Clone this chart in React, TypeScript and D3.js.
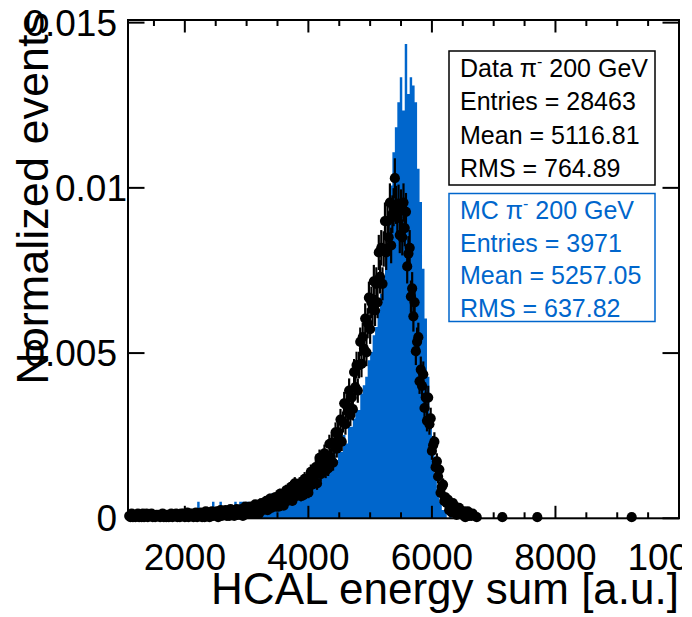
import React from 'react';
import * as d3 from 'd3';

const W = 692;
const H = 617;

const X_DOMAIN = [1080, 10000];
const Y_DOMAIN = [0, 0.01508];
const MC_BIN_WIDTH = 40;
const MC_FIRST_CENTER = 1100;
const DATA_BIN_WIDTH = 20;
const DATA_FIRST_CENTER = 1100;
const MC_ENTRIES = 3971;
const DATA_ENTRIES = 28463;

// MC (blue histogram): entries per bin
const mcCounts = [
  0, 1, 0, 0, 0, 1, 0, 0, 0, 0,
  1, 0, 0, 0, 1, 0, 0, 0, 0, 1,
  1, 1, 0, 1, 0, 1, 0, 1, 2, 0,
  1, 1, 0, 1, 2, 1, 0, 2, 1, 1,
  1, 0, 1, 2, 1, 2, 2, 1, 2, 1,
  2, 1, 1, 2, 1, 2, 1, 2, 3, 3,
  2, 3, 3, 2, 2, 2, 3, 3, 4, 4,
  3, 4, 4, 4, 5, 4, 5, 6, 5, 6,
  6, 7, 7, 8, 7, 9, 8, 10, 9, 11,
  11, 12, 13, 13, 15, 16, 17, 19, 20, 22,
  23, 25, 27, 29, 32, 36, 40, 44, 47, 50,
  53, 49, 57, 51, 53, 52, 50, 42, 38, 30,
  24, 17, 12, 8, 5, 3, 2, 1, 1, 0,
  1, 0, 0,
];

// Data (black points): entries per bin
const dataCounts = [
  2, 1, 4, 1, 3, 1, 2, 4, 1, 3,
  1, 4, 1, 2, 4, 1, 3, 2, 4, 1,
  2, 1, 3, 2, 3, 1, 2, 4, 1, 3,
  1, 3, 1, 2, 4, 1, 3, 2, 4, 1,
  3, 1, 4, 2, 4, 1, 3, 5, 1, 4,
  2, 4, 1, 3, 5, 1, 4, 3, 5, 1,
  4, 1, 6, 3, 5, 1, 4, 6, 2, 5,
  3, 6, 1, 4, 7, 2, 5, 4, 7, 2,
  5, 2, 8, 4, 7, 2, 5, 8, 3, 7,
  4, 8, 2, 6, 10, 4, 8, 6, 10, 4,
  8, 4, 12, 7, 11, 4, 9, 13, 7, 12,
  9, 15, 7, 12, 17, 9, 15, 13, 18, 10,
  16, 10, 21, 14, 20, 11, 18, 24, 15, 22,
  18, 27, 15, 24, 30, 19, 26, 23, 30, 19,
  27, 20, 34, 26, 34, 22, 33, 40, 29, 38,
  32, 44, 30, 42, 52, 38, 48, 45, 56, 41,
  52, 43, 64, 53, 65, 48, 63, 74, 60, 74,
  67, 85, 66, 83, 99, 81, 97, 93, 110, 89,
  104, 94, 126, 113, 132, 110, 132, 152, 133, 156,
  146, 172, 143, 168, 190, 163, 186, 180, 204, 179,
  202, 186, 229, 208, 233, 202, 232, 256, 229, 256,
  242, 272, 235, 262, 268, 293, 270, 259, 271, 244,
  267, 242, 272, 250, 264, 217, 228, 233, 191, 198,
  174, 186, 144, 152, 156, 118, 128, 114, 124, 95,
  104, 84, 104, 81, 86, 58, 63, 66, 44, 49,
  36, 42, 22, 27, 29, 15, 18, 13, 16, 7,
  11, 5, 13, 7, 10, 3, 7, 9, 4, 6,
  3, 6, 1, 4, 6, 2, 4, 2, 4,
];
const dataIsolatedX = [6725, 7140, 7706, 9234];
const dataIsolatedCounts = [1, 1, 1, 1];

const xTicks = [2000, 4000, 6000, 8000, 10000];
const xTickLabels = ['2000', '4000', '6000', '8000', '10000'];
const xMinorStep = 500;
const yTicks = [0, 0.005, 0.01, 0.015];
const yTickLabels = ['0', '0.005', '0.01', '0.015'];

const xTitle = 'HCAL energy sum [a.u.]';
const yTitle = 'Normalized events';

const dataLegendLines = ['Entries = 28463', 'Mean = 5116.81', 'RMS = 764.89'];
const mcLegendLines = ['Entries = 3971', 'Mean = 5257.05', 'RMS = 637.82'];

const FONT = '"Liberation Sans", Arial, Helvetica, sans-serif';
const BLUE = '#0066cc';

export default function App() {
  const left = 128, right = 679, top = 20, bottom = 518.3;
  const x = d3.scaleLinear().domain(X_DOMAIN).range([left, right]);
  const y = d3.scaleLinear().domain(Y_DOMAIN).range([bottom, top]);

  // MC histogram path (step area)
  const mcPts: [number, number][] = mcCounts.map((c, i) => [MC_FIRST_CENTER - MC_BIN_WIDTH / 2 + i * MC_BIN_WIDTH, c / MC_ENTRIES]);
  mcPts.push([MC_FIRST_CENTER - MC_BIN_WIDTH / 2 + mcCounts.length * MC_BIN_WIDTH, 0]);
  const area = d3
    .area<[number, number]>()
    .x((d) => x(d[0]))
    .y0(y(0))
    .y1((d) => y(d[1]))
    .curve(d3.curveStepAfter);
  const mcPath = area(mcPts) || '';

  const dataPts = dataCounts
    .map((n, i) => ({ xv: DATA_FIRST_CENTER + i * DATA_BIN_WIDTH, n }))
    .concat(dataIsolatedX.map((xv, i) => ({ xv, n: dataIsolatedCounts[i] })))
    .filter((d) => d.n > 0)
    .map((d) => ({ xv: d.xv, v: d.n / DATA_ENTRIES, e: Math.sqrt(d.n) / DATA_ENTRIES }));

  const minorTicks = d3.range(1500, 10001, xMinorStep).filter((t) => t >= X_DOMAIN[0] && t % 2000 !== 0);

  // ROOT keeps the label of the trailing-zero-stripped value slightly offset
  const yLabelX = (s: string) => (s.length === 4 ? 127 : 117);

  return (
    <svg width={W} height={H} style={{ position: 'absolute', left: 0, top: 0, background: '#fff' }} fontFamily={FONT}>
      <defs>
        <clipPath id="frame">
          <rect x={left} y={top} width={right - left} height={bottom - top} />
        </clipPath>
        <clipPath id="page">
          <rect x={0} y={0} width={682} height={H} />
        </clipPath>
      </defs>
      <rect x={0} y={0} width={W} height={H} fill="#fff" />
      <g clipPath="url(#frame)">
        <path d={mcPath} fill={BLUE} stroke="none" />
      </g>
      <g>
        {dataPts.map((d, i) => (
          <line key={'e' + i} x1={x(d.xv)} x2={x(d.xv)} y1={y(d.v - d.e)} y2={y(d.v + d.e)} stroke="#000" strokeWidth={2.2} />
        ))}
        {dataPts.map((d, i) => (
          <circle key={'c' + i} cx={x(d.xv)} cy={y(d.v)} r={5.1} fill="#000" />
        ))}
      </g>
      {/* frame */}
      <rect x={left} y={top} width={right - left} height={bottom - top} fill="none" stroke="#000" strokeWidth={2} />
      {/* x ticks */}
      {xTicks.map((t) => (
        <g key={'xt' + t}>
          <line x1={x(t)} x2={x(t)} y1={bottom} y2={bottom - 12.5} stroke="#000" strokeWidth={2} />
          <line x1={x(t)} x2={x(t)} y1={top} y2={top + 12.5} stroke="#000" strokeWidth={2} />
        </g>
      ))}
      {minorTicks.map((t) => (
        <g key={'xm' + t}>
          <line x1={x(t)} x2={x(t)} y1={bottom} y2={bottom - 6} stroke="#000" strokeWidth={2} />
          <line x1={x(t)} x2={x(t)} y1={top} y2={top + 6} stroke="#000" strokeWidth={2} />
        </g>
      ))}
      {yTicks.map((t) => (
        <g key={'yt' + t}>
          <line x1={left} x2={left + 16.5} y1={y(t)} y2={y(t)} stroke="#000" strokeWidth={2} />
          <line x1={right} x2={right - 16.5} y1={y(t)} y2={y(t)} stroke="#000" strokeWidth={2} />
        </g>
      ))}
      {/* tick labels */}
      <g clipPath="url(#page)" fontSize={37}>
        {xTicks.map((t, i) => (
          <text key={'xl' + t} x={x(t)} y={570} textAnchor="middle" fill="#000">
            {xTickLabels[i]}
          </text>
        ))}
      </g>
      <g fontSize={37}>
        {yTicks.map((t, i) => (
          <text key={'yl' + t} x={yLabelX(yTickLabels[i])} y={y(t) + 13} textAnchor="end" fill="#000">
            {yTickLabels[i]}
          </text>
        ))}
      </g>
      {/* axis titles */}
      <text x={679} y={604} textAnchor="end" fontSize={44} fill="#000">
        {xTitle}
      </text>
      <text transform={`translate(48,12) rotate(-90)`} textAnchor="end" fontSize={45} fill="#000">
        {yTitle}
      </text>
      {/* legends */}
      <g fontSize={25}>
        <rect x={449} y={51} width={206} height={134} fill="#fff" stroke="#000" strokeWidth={1.5} />
        <text x={460} y={76.5} fill="#000">
          Data π<tspan dy={-10} fontSize={16}>-</tspan>
          <tspan dy={10}> 200 GeV</tspan>
        </text>
        {dataLegendLines.map((s, i) => (
          <text key={'dl' + i} x={460} y={110 + i * 33.5} fill="#000">
            {s}
          </text>
        ))}
        <rect x={449} y={193.5} width={206} height={128} fill="#fff" stroke={BLUE} strokeWidth={1.5} />
        <text x={460} y={219} fill={BLUE}>
          MC π<tspan dy={-10} fontSize={16}>-</tspan>
          <tspan dy={10}> 200 GeV</tspan>
        </text>
        {mcLegendLines.map((s, i) => (
          <text key={'ml' + i} x={460} y={251.5 + i * 32.5} fill={BLUE}>
            {s}
          </text>
        ))}
      </g>
    </svg>
  );
}
